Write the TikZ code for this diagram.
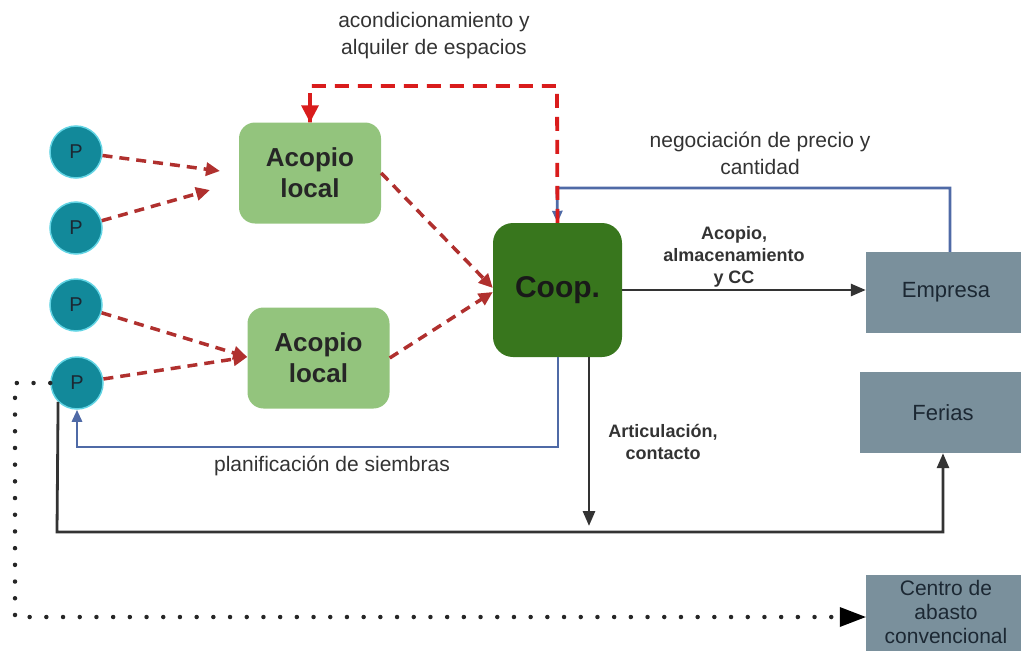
\documentclass[tikz,border=0pt]{standalone}
\usepackage{fontspec}
\setmainfont{Liberation Sans}
\usetikzlibrary{arrows.meta}
\definecolor{pteal}{HTML}{12899A}
\definecolor{pedge}{HTML}{62D4E4}
\definecolor{lgreen}{HTML}{93C47D}
\definecolor{dgreen}{HTML}{38761D}
\definecolor{slate}{HTML}{7A909C}
\definecolor{lblue}{HTML}{4F6AA6}
\definecolor{dred}{HTML}{B0302E}
\definecolor{bred}{HTML}{D91C1C}
\definecolor{ink}{HTML}{1C2833}
\definecolor{lbl}{HTML}{333333}
\begin{document}
\begin{tikzpicture}[x=1pt,y=-1pt,
  pnode/.style={circle, fill=pteal, draw=pedge, line width=1.5pt, minimum size=52pt, inner sep=0pt,
    font=\fontsize{20}{24}\selectfont, text=ink},
  acopio/.style={rounded corners=16pt, fill=lgreen, minimum width=142pt, minimum height=101pt, inner sep=0pt,
    align=center, font=\bfseries\fontsize{26}{31}\selectfont, text=black!85},
  coopbox/.style={rounded corners=20pt, fill=dgreen, minimum width=129pt, minimum height=134pt, inner sep=0pt,
    align=center, font=\bfseries\fontsize{30}{34}\selectfont, text=black!90},
  dest/.style={fill=slate, inner sep=0pt, align=center, font=\fontsize{22}{26}\selectfont, text=ink},
  lab/.style={align=center, font=\fontsize{21}{27}\selectfont, text=lbl, inner sep=0pt},
  blab/.style={align=center, font=\bfseries\fontsize{18}{22}\selectfont, text=lbl, inner sep=0pt},
  pflow/.style={draw=dred, line width=3.5pt, dash pattern=on 10pt off 7pt, -{Triangle[length=14pt,width=13pt]}},
  rflow/.style={draw=bred, line width=3.8pt, dash pattern=on 14pt off 9pt},
  bflow/.style={draw=lblue, line width=2.8pt, -{Triangle[length=12pt,width=10pt]}},
  kflow/.style={draw=black!80, line width=2.8pt, -{Triangle[length=15pt,width=12pt]}},
  dflow/.style={draw=black!85, line width=4.5pt, line cap=round, dash pattern=on 0pt off 16.7pt}
]
\useasboundingbox (0,0) rectangle (1021,651);
\clip (0,0) rectangle (1021,651);

% nodes
\node[pnode] (p1) at (76,152) {P};
\node[pnode] (p2) at (76,228) {P};
\node[pnode] (p3) at (76,305) {P};
\node[pnode] (p4) at (77,383) {P};
\node[acopio] (a1) at (310,173) {Acopio\\local};
\node[acopio] (a2) at (318.5,358) {Acopio\\local};
\node[coopbox] (coop) at (557.5,290) {Coop.};
\node[dest, minimum width=160pt, minimum height=81pt] (emp) at (946,292.5) {Empresa};
\node[dest, minimum width=166pt, minimum height=81pt] (fer) at (943,412.5) {Ferias};
\node[dest, minimum width=160pt, minimum height=80pt] (cen) at (946,615) {};
\node[align=center, inner sep=0pt, text=ink, font=\fontsize{21}{24}\selectfont] (cent) at (946,612) {Centro de\\abasto\\convencional};

% labels
\node[lab] (l1) at (434,36) {acondicionamiento y\\alquiler de espacios};
\node[lab] (l2) at (760,153) {negociación de precio y\\cantidad};
\node[blab] (l3) at (734,257) {Acopio,\\almacenamiento\\y CC};
\node[lab] (l4) at (332,466) {planificación de siembras};
\node[blab] (l5) at (663,442) {Articulación,\\contacto};

% helper coordinates
\coordinate (t1) at (220,171);
\coordinate (t2) at (210,190);
\coordinate (top) at (557,86);
\coordinate (nb) at (557,188);
\coordinate (pb) at (558,447);
\coordinate (ad) at (589,526);
\coordinate (bl) at (57,532);
\coordinate (dl) at (15,617);

% producer flows
\draw[pflow] (p1) -- (t1);
\draw[pflow] (p2) -- (t2);
\draw[pflow] (p3) -- ([yshift=1pt]a2.west);
\draw[pflow] (p4) -- ([yshift=1pt]a2.west);
\draw[pflow] (a1.east) -- ([yshift=2pt]coop.west);
\draw[pflow] (a2.east) -- ([yshift=-2pt]coop.west);

% blue flows
\draw[bflow] ([xshift=4pt]emp.north) |- (nb) -- (coop.north);
\draw[bflow] ([xshift=0.5pt]coop.south) -- (pb) -| (p4.south);

% red loop
\draw[rflow] (coop.north) -- (top) -| (a1.north);
\fill[bred] (a1.north) -- ++(-9,-17) -- ++(18,0) -- cycle;

% black flows
\draw[kflow] (coop.east) -- (coop.east -| emp.west);
\draw[kflow] ([xshift=31.5pt]coop.south) -- (ad);
\draw[kflow] (p4.south west) -- (bl) -| (fer.south);

% dotted
\draw[dflow] (p4.west) -| (dl) -- ([xshift=-22pt]cen.west |- dl);
\fill[black] (cen.west |- dl) -- ++(-26,-10) -- ++(0,20) -- cycle;
\end{tikzpicture}
\end{document}
